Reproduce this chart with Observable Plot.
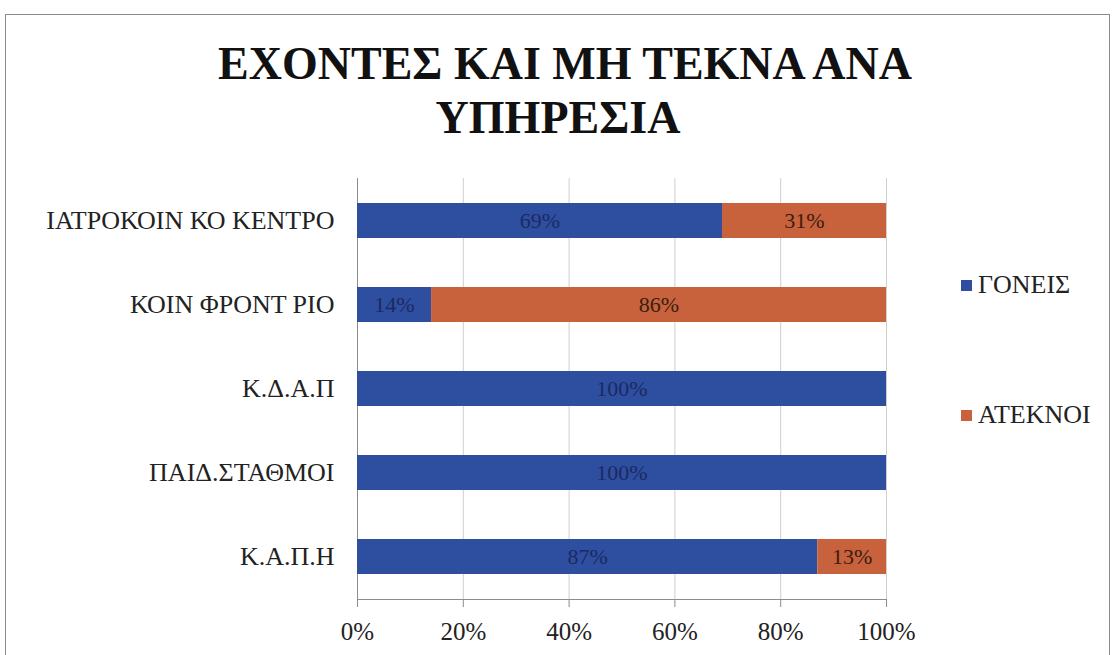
<!DOCTYPE html>
<html>
<head>
<meta charset="utf-8">
<script src="https://cdn.jsdelivr.net/npm/d3@7"></script>
<script src="https://cdn.jsdelivr.net/npm/@observablehq/plot@0.6"></script>
</head>
<body style="margin:0;padding:0;background:#fff">
<div id="wrap" style="position:relative;width:1117px;height:655px;background:#fff;overflow:hidden">
  <div style="position:relative;height:165px">
    <div style="position:absolute;left:0;top:37px;width:1130px;text-align:center;font-family:'Liberation Serif';font-weight:bold;font-size:46px;color:#111">ΕΧΟΝΤΕΣ ΚΑΙ ΜΗ ΤΕΚΝΑ ΑΝΑ</div>
    <div style="position:absolute;left:0;top:91px;width:1116px;text-align:center;font-family:'Liberation Serif';font-weight:bold;font-size:46px;color:#111">ΥΠΗΡΕΣΙΑ</div>
  </div>
  <div id="chart"></div>
  <div style="position:absolute;left:5px;top:14px;width:1105px;height:660px;border:1.5px solid #8a8a8a;box-sizing:border-box;pointer-events:none"></div>
</div>
<script>
const categories = ["ΙΑΤΡΟΚΟΙΝ ΚΟ ΚΕΝΤΡΟ", "ΚΟΙΝ ΦΡΟΝΤ ΡΙΟ", "Κ.Δ.Α.Π", "ΠΑΙΔ.ΣΤΑΘΜΟΙ", "Κ.Α.Π.Η"];
const seriesNames = ["ΓΟΝΕΙΣ", "ΑΤΕΚΝΟΙ"];
const goneis = [69, 14, 100, 100, 87];
const ateknoi = [31, 86, 0, 0, 13];
const xTicks = [0, 20, 40, 60, 80, 100];
const seriesColors = ["#2e4ea0", "#c8623c"];
const labelColors = ["#1b2a63", "#3a1d10"];
const SERIF = "'Liberation Serif'";

const data = [];
categories.forEach((c, i) => {
  data.push({cat: c, series: seriesNames[0], value: goneis[i]});
  data.push({cat: c, series: seriesNames[1], value: ateknoi[i]});
});

const plot = Plot.plot({
  width: 1117,
  height: 490,
  marginTop: 13,
  marginBottom: 56,
  marginLeft: 357,
  marginRight: 231,
  style: {fontFamily: SERIF, fontSize: "25px", color: "#222", background: "transparent"},
  x: {domain: [0, 100]},
  y: {domain: categories, paddingInner: 0.585, paddingOuter: 0.29},
  color: {domain: seriesNames, range: seriesColors},
  marks: [
    Plot.gridX({ticks: xTicks, stroke: "#cfcfcf", strokeOpacity: 1}),
    Plot.ruleX([0], {stroke: "#8c8c8c"}),
    Plot.frame({anchor: "bottom", stroke: "#8c8c8c"}),
    Plot.barX(data, Plot.stackX({x: "value", y: "cat", fill: "series"})),
    Plot.text(data.filter(d => d.value > 0), Plot.stackX({
      x: "value", y: "cat", z: "series",
      text: d => d.value + "%",
      fill: d => labelColors[seriesNames.indexOf(d.series)],
      fontSize: 22
    })),
    Plot.axisX({ticks: xTicks, tickFormat: d => d + "%", tickSize: 8, tickPadding: 15, stroke: "#8c8c8c", label: null, fontSize: 25}),
    Plot.axisY({tickSize: 0, tickPadding: 23, label: null, fontSize: 26})
  ]
});
plot.setAttribute("font-family", "Liberation Serif");
plot.style.display = "block";
d3.select(plot).selectAll("text, g").style("font-family", SERIF).attr("font-family", "Liberation Serif");
document.getElementById("chart").appendChild(plot);

// legend
const wrap = document.getElementById("wrap");
const legendCenters = [285, 415];
seriesNames.forEach((s, i) => {
  const sw = document.createElement("div");
  sw.setAttribute("style", "position:absolute;left:961px;top:" + (legendCenters[i] - 5.5) + "px;width:11px;height:11px;background:" + seriesColors[i]);
  wrap.appendChild(sw);
  const tx = document.createElement("div");
  tx.setAttribute("style", "position:absolute;left:978px;top:" + (legendCenters[i] - 15) + "px;font-family:'Liberation Serif';font-size:26px;color:#222;white-space:nowrap");
  tx.textContent = s;
  wrap.appendChild(tx);
});
</script>
</body>
</html>
